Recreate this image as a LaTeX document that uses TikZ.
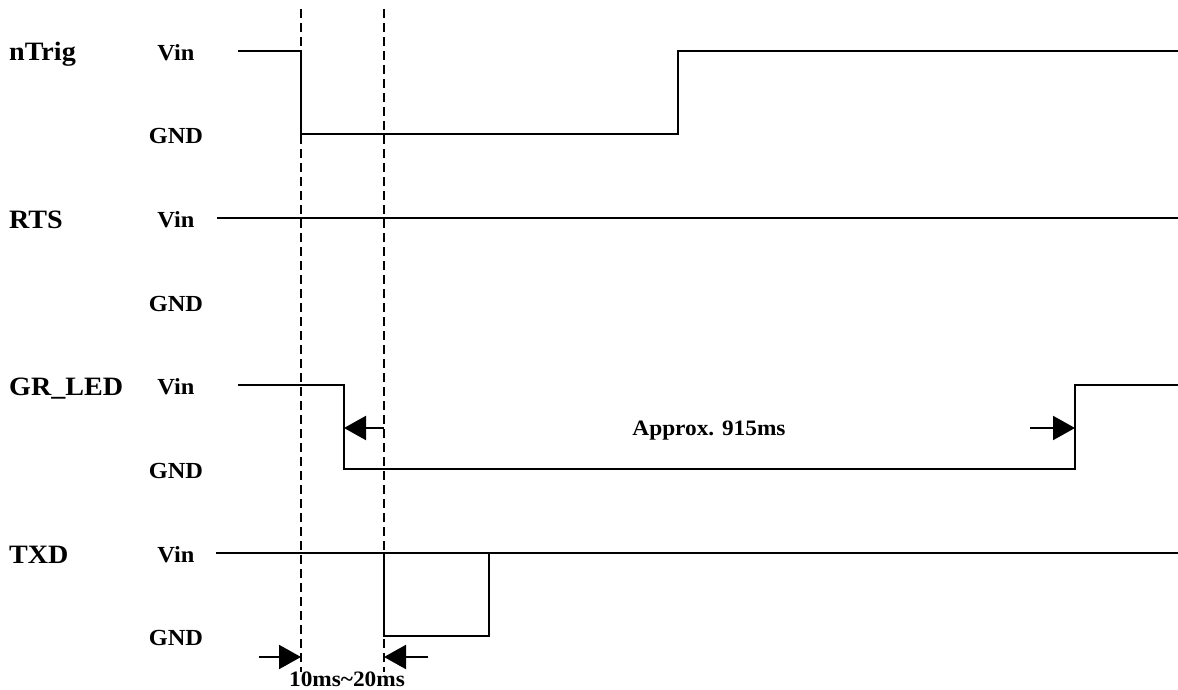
\documentclass[tikz,border=0pt]{standalone}
\usepackage{fontspec}
\setmainfont{Liberation Serif}[FakeStretch=1.06]
\usetikzlibrary{arrows.meta,positioning}
\tikzset{
  >={Triangle[length=22pt,width=24pt]},
  sig/.style  ={line width=2.1pt},
  guide/.style={line width=1.7pt, dash pattern=on 9pt off 5pt},
  dimarr/.style={line width=2.1pt, ->},
  sname/.style={anchor=base west, inner sep=0pt, font=\fontsize{26.5}{26.5}\selectfont\bfseries},
  lvl/.style  ={anchor=base, inner sep=0pt, font=\fontsize{23}{23}\selectfont\bfseries},
  note/.style ={anchor=base, inner sep=0pt, font=\fontsize{22}{22}\selectfont\bfseries}
}

\begin{document}
\begin{tikzpicture}[x=1pt, y=-1pt]
\useasboundingbox (0,0) rectangle (1178,690);

% signal names
\node[sname] (trig) at (9,61)  {nTrig};
\node[sname] (rts)  at (9,228) {RTS};
\node[sname] (led)  at (9,395) {GR\_LED};
\node[sname] (txd)  at (9,563) {TXD};

% levels
\foreach \id/\hi/\lo in {trig/51/134, rts/218/302, led/385/469, txd/553/636} {
  \node[lvl] (\id-vin) at (176,\hi+9.5) {Vin};
  \node[lvl] (\id-gnd) at (176,\lo+9.5) {GND};
}

% waveforms
\draw[sig] (238,51) -- (301,51) -- (301,134) -- (678,134) -- (678,51) -- (1178,51);
\draw[sig] (217,218) -- (1178,218);
\draw[sig] (238,385) -- (344,385) -- (344,469) -- (1075,469) -- (1075,385) -- (1178,385);
\draw[sig] (216,553) -- (1178,553);
\draw[sig] (384,553) -- (384,636) -- (489,636) -- (489,553);

% timing guides
\draw[guide] (301,9) -- (301,672);
\draw[guide] (384,9) -- (384,672);

% dimensions
\coordinate (fall) at (344,428);
\coordinate (rise) at (1075,428);
\coordinate (t0)   at (301,657);
\coordinate (t1)   at (384,657);
\draw[dimarr] (384,428) -- (fall);
\draw[dimarr] (1030,428) -- (rise);
\draw[dimarr] (259,657) -- (t0);
\draw[dimarr] (428,657) -- (t1);
\node[note] (approx) at (709,435) {Approx. 915ms};
\node[note] (delay)  at (347,686) {10ms\textasciitilde20ms};
\end{tikzpicture}
\end{document}
